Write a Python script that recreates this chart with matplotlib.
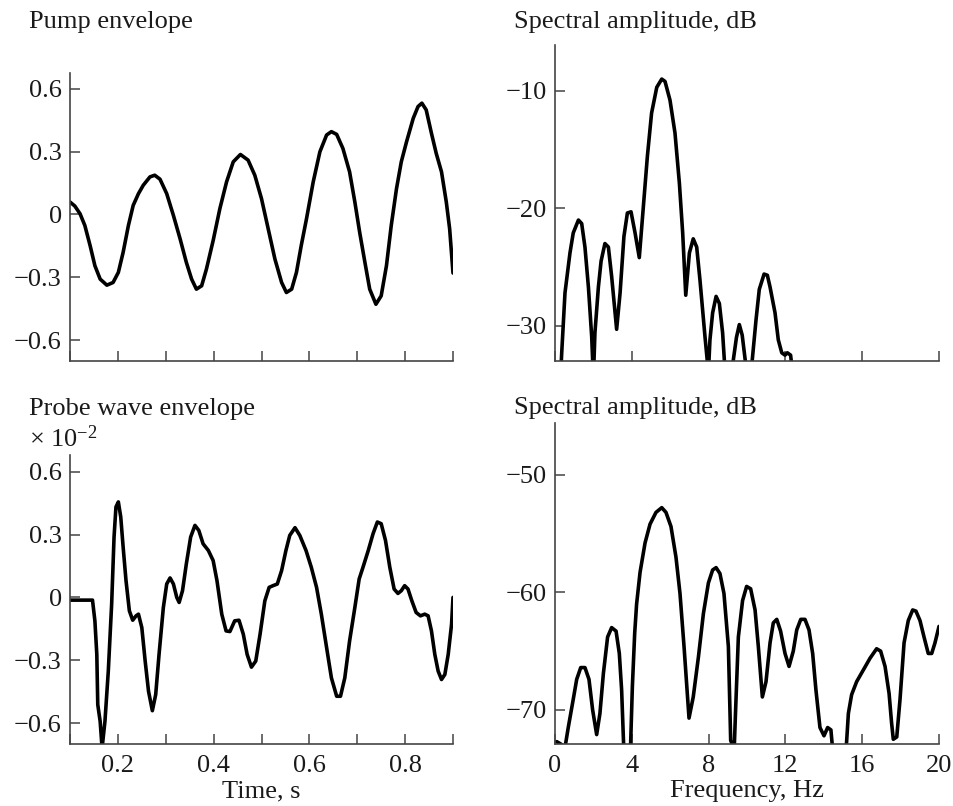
import matplotlib
matplotlib.use('Agg')
import matplotlib.pyplot as plt
from matplotlib.ticker import FixedLocator

plt.rcParams['font.family'] = ['Liberation Serif', 'DejaVu Serif']
plt.rcParams['mathtext.fontset'] = 'custom'
plt.rcParams['mathtext.rm'] = 'Liberation Serif'
plt.rcParams['mathtext.it'] = 'Liberation Serif:italic'

# Pump envelope (time, s / amplitude)
pumpTime = [0.100, 0.110, 0.121, 0.131, 0.142, 0.152, 0.163, 0.177, 0.190, 0.201,
            0.211, 0.222, 0.232, 0.243, 0.253, 0.267, 0.277, 0.288, 0.302, 0.316,
            0.330, 0.343, 0.354, 0.364, 0.375, 0.385, 0.399, 0.413, 0.427, 0.441,
            0.456, 0.472, 0.486, 0.500, 0.514, 0.528, 0.542, 0.552, 0.563, 0.573,
            0.583, 0.594, 0.608, 0.622, 0.636, 0.646, 0.657, 0.670, 0.684, 0.695,
            0.705, 0.716, 0.726, 0.739, 0.750, 0.761, 0.771, 0.782, 0.792, 0.803,
            0.817, 0.827, 0.835, 0.844, 0.855, 0.865, 0.876, 0.886, 0.893, 0.900]
pumpValue = [0.059, 0.040, 0.003, -0.053, -0.149, -0.245, -0.309, -0.338, -0.325, -0.277,
             -0.181, -0.053, 0.043, 0.099, 0.139, 0.179, 0.187, 0.168, 0.099, -0.005,
             -0.117, -0.229, -0.309, -0.357, -0.341, -0.261, -0.125, 0.027, 0.155, 0.251,
             0.286, 0.259, 0.187, 0.075, -0.069, -0.213, -0.325, -0.373, -0.357, -0.277,
             -0.149, -0.021, 0.155, 0.299, 0.379, 0.395, 0.382, 0.315, 0.203, 0.059,
             -0.085, -0.229, -0.357, -0.429, -0.389, -0.245, -0.053, 0.123, 0.251, 0.347,
             0.459, 0.515, 0.531, 0.499, 0.387, 0.291, 0.203, 0.059, -0.069, -0.280]

# Probe wave envelope (x 1e-2)
probeTime = [0.100, 0.147, 0.152, 0.156, 0.158, 0.163, 0.167, 0.173, 0.180, 0.187,
             0.192, 0.196, 0.201, 0.206, 0.211, 0.217, 0.224, 0.231, 0.238, 0.243,
             0.250, 0.257, 0.264, 0.272, 0.279, 0.286, 0.295, 0.302, 0.309, 0.316,
             0.323, 0.328, 0.335, 0.343, 0.352, 0.361, 0.369, 0.378, 0.389, 0.399,
             0.407, 0.417, 0.426, 0.434, 0.444, 0.453, 0.462, 0.470, 0.479, 0.488,
             0.497, 0.507, 0.516, 0.524, 0.533, 0.542, 0.551, 0.559, 0.570, 0.580,
             0.593, 0.604, 0.615, 0.625, 0.636, 0.646, 0.657, 0.665, 0.674, 0.684,
             0.695, 0.704, 0.712, 0.723, 0.733, 0.742, 0.750, 0.759, 0.768, 0.777,
             0.785, 0.792, 0.799, 0.806, 0.814, 0.823, 0.832, 0.841, 0.848, 0.855,
             0.862, 0.869, 0.876, 0.883, 0.890, 0.897, 0.900]
probeValue = [-0.013, -0.013, -0.112, -0.272, -0.512, -0.592, -0.720, -0.592, -0.352, -0.032,
              0.288, 0.432, 0.456, 0.384, 0.240, 0.080, -0.064, -0.109, -0.088, -0.080,
              -0.144, -0.304, -0.448, -0.541, -0.464, -0.272, -0.048, 0.064, 0.093, 0.064,
              0.000, -0.024, 0.032, 0.160, 0.288, 0.344, 0.320, 0.256, 0.224, 0.176,
              0.080, -0.080, -0.160, -0.163, -0.112, -0.109, -0.176, -0.272, -0.333, -0.304,
              -0.176, -0.016, 0.048, 0.056, 0.064, 0.128, 0.224, 0.296, 0.333, 0.296,
              0.224, 0.144, 0.048, -0.080, -0.240, -0.384, -0.472, -0.472, -0.384, -0.208,
              -0.048, 0.088, 0.144, 0.224, 0.304, 0.360, 0.352, 0.272, 0.144, 0.040,
              0.019, 0.032, 0.056, 0.040, -0.016, -0.072, -0.088, -0.080, -0.088, -0.160,
              -0.272, -0.352, -0.392, -0.368, -0.272, -0.128, 0.000]

# Pump spectrum (Hz / dB)
pumpFreq = [0.30, 0.35, 0.52, 0.78, 0.95, 1.22, 1.39, 1.56, 1.74, 1.91,
            2.00, 2.08, 2.26, 2.40, 2.60, 2.78, 2.95, 3.21, 3.39, 3.59,
            3.77, 3.96, 4.17, 4.39, 4.60, 4.81, 5.03, 5.30, 5.56, 5.73,
            5.99, 6.25, 6.48, 6.65, 6.81, 7.00, 7.20, 7.38, 7.55, 7.81,
            7.99, 8.07, 8.21, 8.39, 8.56, 8.73, 8.90, 9.28, 9.45, 9.60,
            9.75, 9.95, 10.24, 10.47, 10.64, 10.89, 11.06, 11.20, 11.46, 11.63,
            11.81, 11.98, 12.10, 12.27, 12.45]
pumpSpec = [-34.0, -32.3, -27.2, -23.8, -22.1, -21.0, -21.3, -23.3, -26.7, -30.9,
            -34.5, -30.6, -26.7, -24.5, -23.0, -23.3, -25.8, -30.3, -27.2, -22.4,
            -20.4, -20.3, -22.1, -24.2, -19.9, -15.6, -11.9, -9.7, -9.0, -9.2,
            -10.8, -13.6, -17.9, -22.1, -27.4, -23.8, -22.6, -23.3, -26.1, -30.9,
            -34.0, -31.2, -28.9, -27.5, -28.1, -30.6, -35.0, -33.0, -31.0, -29.9,
            -30.8, -33.5, -33.5, -29.5, -26.9, -25.6, -25.7, -26.7, -28.9, -31.2,
            -32.3, -32.5, -32.3, -32.5, -35.0]

# Probe wave spectrum (Hz / dB)
probeFreq = [0.09, 0.30, 0.52, 0.69, 0.95, 1.13, 1.34, 1.56, 1.77, 1.96,
             2.17, 2.34, 2.52, 2.74, 2.95, 3.18, 3.35, 3.47, 3.62, 3.90,
             4.03, 4.15, 4.25, 4.43, 4.69, 4.95, 5.26, 5.56, 5.78, 6.04,
             6.30, 6.51, 6.72, 6.98, 7.20, 7.47, 7.73, 7.99, 8.21, 8.39,
             8.59, 8.80, 9.03, 9.15, 9.25, 9.33, 9.40, 9.55, 9.77, 9.98,
             10.19, 10.42, 10.59, 10.80, 10.99, 11.20, 11.37, 11.55, 11.75, 11.98,
             12.19, 12.41, 12.59, 12.80, 13.02, 13.23, 13.42, 13.59, 13.80, 14.01,
             14.20, 14.37, 14.55, 15.10, 15.28, 15.45, 15.71, 16.06, 16.41, 16.75,
             16.96, 17.19, 17.40, 17.53, 17.62, 17.80, 17.97, 18.18, 18.40, 18.63,
             18.80, 19.01, 19.22, 19.44, 19.62, 19.79, 20.00]
probeSpec = [-72.7, -72.9, -73.2, -71.5, -69.1, -67.4, -66.4, -66.4, -67.4, -70.0,
             -72.1, -70.3, -66.9, -63.8, -63.0, -63.3, -65.2, -68.3, -75.0, -75.0,
             -68.0, -63.5, -61.0, -58.3, -55.8, -54.2, -53.2, -52.8, -53.2, -54.4,
             -57.0, -60.1, -64.6, -70.7, -68.9, -65.5, -61.8, -59.2, -58.1, -57.9,
             -58.4, -60.1, -64.6, -72.6, -73.0, -73.5, -70.3, -63.8, -60.7, -59.5,
             -59.7, -61.5, -64.6, -68.9, -67.6, -64.3, -62.6, -62.3, -63.3, -65.2,
             -66.3, -65.0, -63.2, -62.3, -62.3, -63.2, -65.2, -68.3, -71.5, -72.2,
             -71.5, -71.7, -75.0, -75.0, -70.3, -68.7, -67.6, -66.6, -65.6, -64.8,
             -65.0, -66.3, -68.6, -71.1, -72.5, -72.3, -69.1, -64.3, -62.4, -61.5,
             -61.6, -62.4, -63.8, -65.2, -65.2, -64.3, -62.9]

ampTicks = [0.6, 0.3, 0.0, -0.3, -0.6]
ampLabels = ['0.6', '0.3', '0', '\u22120.3', '\u22120.6']
timeTicks = [0.2, 0.4, 0.6, 0.8]
timeLabels = ['0.2', '0.4', '0.6', '0.8']
timeMinor = [0.1, 0.3, 0.5, 0.7, 0.9]
freqTicks = [0, 4, 8, 12, 16, 20]
freqLabels = ['0', '4', '8', '12', '16', '20']
pumpDbTicks = [-10, -20, -30]
pumpDbLabels = ['\u221210', '\u221220', '\u221230']
probeDbTicks = [-50, -60, -70]
probeDbLabels = ['\u221250', '\u221260', '\u221270']

W, H = 954, 806
AXIS_GREY = '#444444'
TEXT = '#1a1a1a'
FS = 19


def PixelAxes(fig, x0, y0, x1, y1):
    ''' Add an axes given its pixel box (top-left origin). '''
    return fig.add_axes([x0 / W, 1 - y1 / H, (x1 - x0) / W, (y1 - y0) / H])


def StyleAxes(ax, xlim, ylim, xticks, yticks, ylabels, xlabels=None, xminor=None):
    ax.set_xlim(*xlim)
    ax.set_ylim(*ylim)
    for side in ['top', 'right']:
        ax.spines[side].set_visible(False)
    for side in ['left', 'bottom']:
        ax.spines[side].set_color(AXIS_GREY)
        ax.spines[side].set_linewidth(1.2)
    ax.xaxis.set_major_locator(FixedLocator(xticks))
    ax.yaxis.set_major_locator(FixedLocator(yticks))
    ax.set_yticklabels(ylabels)
    if xlabels is None:
        ax.set_xticklabels([])
    else:
        ax.set_xticklabels(xlabels)
    if xminor is not None:
        ax.xaxis.set_minor_locator(FixedLocator(xminor))
    ax.tick_params(which='both', direction='in', length=7, width=1.1, color=AXIS_GREY,
                   labelsize=FS, labelcolor=TEXT)
    ax.tick_params(axis='y', pad=6)
    ax.tick_params(axis='x', pad=8)


def Curve(ax, x, y):
    ax.plot(x, y, color='black', lw=2.6, solid_joinstyle='round', solid_capstyle='round')


def PixelText(fig, x, y, s, **kw):
    fig.text(x / W, 1 - y / H, s, fontsize=FS, color=TEXT, va='baseline', **kw)


fig = plt.figure(figsize=(W / 100, H / 100), dpi=100)

axA = PixelAxes(fig, 70, 73, 453, 361)
Curve(axA, pumpTime, pumpValue)
StyleAxes(axA, (0.1, 0.9), (-0.7, 0.675), timeTicks, ampTicks, ampLabels, xminor=timeMinor)

axB = PixelAxes(fig, 555, 45, 939, 361)
Curve(axB, pumpFreq, pumpSpec)
StyleAxes(axB, (0, 20), (-33, -6.1), freqTicks, pumpDbTicks, pumpDbLabels)

axC = PixelAxes(fig, 70, 455, 453, 744)
Curve(axC, probeTime, probeValue)
StyleAxes(axC, (0.1, 0.9), (-0.7, 0.68), timeTicks, ampTicks, ampLabels,
          xlabels=timeLabels, xminor=timeMinor)

axD = PixelAxes(fig, 555, 423, 939, 744)
Curve(axD, probeFreq, probeSpec)
StyleAxes(axD, (0, 20), (-72.9, -45.6), freqTicks, probeDbTicks, probeDbLabels,
          xlabels=freqLabels)

PixelText(fig, 29, 28, 'Pump envelope')
PixelText(fig, 514, 28, 'Spectral amplitude, dB')
PixelText(fig, 29, 415, 'Probe wave envelope')
PixelText(fig, 29, 447, r'$\times\ 10^{-2}$')
PixelText(fig, 514, 414, 'Spectral amplitude, dB')
PixelText(fig, 261.5, 797, 'Time, s', ha='center')
PixelText(fig, 747, 797, 'Frequency, Hz', ha='center')

plt.savefig('out.png', dpi=100)
